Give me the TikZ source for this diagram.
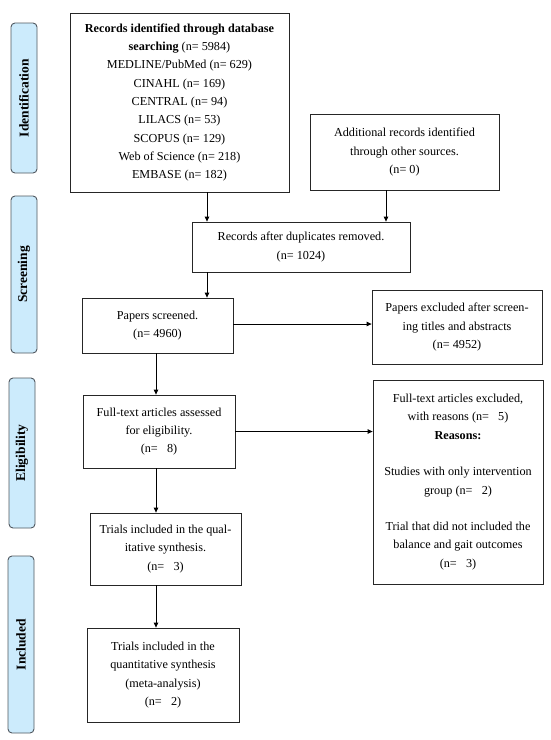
\documentclass[tikz,border=0pt]{standalone}
\usepackage{fontspec}
\setmainfont{Liberation Serif}
\usetikzlibrary{arrows.meta}
\definecolor{stagefill}{HTML}{CCEBFC}
\definecolor{stagedraw}{HTML}{505860}
\tikzset{
  flowbox/.style={draw=black!85, line width=0.8pt, fill=white, align=center, inner sep=0pt,
    font=\fontsize{12.2pt}{18.3pt}\selectfont},
  stagebox/.style={draw=stagedraw, line width=0.9pt, fill=stagefill, rounded corners=4pt, inner sep=0pt},
  stagelabel/.style={rotate=90, font=\fontsize{13.5pt}{16pt}\selectfont\bfseries},
  flowarrow/.style={draw=black, line width=0.8pt, -{Triangle[length=5pt,width=4.5pt]}}
}
\begin{document}
\begin{tikzpicture}[x=1pt,y=-1pt]
\useasboundingbox[fill=white] (0,0) rectangle (550,740);

% stage boxes
\node[stagebox, minimum width=26pt, minimum height=150pt] (sI) at (24,98) {};
\node[stagelabel] (lI) at (sI.center) {Identification};
\node[stagebox, minimum width=26pt, minimum height=157pt] (sS) at (24,274.5) {};
\node[stagelabel] (lS) at (sS.center) {Screening};
\node[stagebox, minimum width=26pt, minimum height=150pt] (sE) at (22,453) {};
\node[stagelabel] (lE) at (sE.center) {Eligibility};
\node[stagebox, minimum width=26pt, minimum height=177pt] (sN) at (21,644.5) {};
\node[stagelabel] (lN) at (sN.center) {Included};

% flow boxes
\node[flowbox, minimum width=219pt, minimum height=179pt] (main) at (179.5,102.5) {%
\textbf{Records identified through database}\\
\textbf{searching} (n= 5984)\\
MEDLINE/PubMed (n= 629)\\
CINAHL (n= 169)\\
CENTRAL (n= 94)\\
LILACS (n= 53)\\
SCOPUS (n= 129)\\
Web of Science (n= 218)\\
EMBASE (n= 182)};

\node[flowbox, minimum width=189pt, minimum height=76pt] (add) at (404.5,152) {%
Additional records identified\\
through other sources.\\
(n= 0)};

\node[flowbox, minimum width=218pt, minimum height=50pt] (dup) at (301,247) {%
Records after duplicates removed.\\
(n= 1024)};

\node[flowbox, minimum width=151pt, minimum height=55pt] (ps) at (157.5,325.5) {%
Papers screened.\\
(n= 4960)};

\node[flowbox, minimum width=170pt, minimum height=74pt] (ex1) at (457,327) {%
Papers excluded after screen-\\
ing titles and abstracts\\
(n= 4952)};

\node[flowbox, minimum width=152pt, minimum height=73pt] (ft) at (159,431.5) {%
Full-text articles assessed\\
for eligibility.\\
(n=~~~8)};

\node[flowbox, minimum width=170pt, minimum height=204pt] (ex2) at (458,482) {%
Full-text articles excluded,\\
with reasons (n=~~~5)\\
\textbf{Reasons:}\\[18.3pt]
Studies with only intervention\\
group (n=~~~2)\\[18.3pt]
Trial that did not included the\\
balance and gait outcomes\\
(n=~~~3)};

\node[flowbox, minimum width=151pt, minimum height=72pt] (tq) at (165.5,549) {%
Trials included in the qual-\\
itative synthesis.\\
(n=~~~3)};

\node[flowbox, minimum width=152pt, minimum height=94pt] (tm) at (163,675) {%
Trials included in the\\
quantitative synthesis\\
(meta-analysis)\\
(n=~~~2)};

% connector guides
\coordinate (c1) at (207,0);
\coordinate (c2) at (386,0);
\coordinate (c3) at (156,0);

\draw[flowarrow] (main.south -| c1) -- (dup.north -| c1);
\draw[flowarrow] (add.south -| c2) -- (dup.north -| c2);
\draw[flowarrow] (dup.south -| c1) -- (ps.north -| c1);
\draw[flowarrow] ([yshift=1.5pt]ps.east) -- ([yshift=1.5pt]ps.east -| ex1.west);
\draw[flowarrow] (ps.south -| c3) -- (ft.north -| c3);
\draw[flowarrow] (ft.east) -- (ft.east -| ex2.west);
\draw[flowarrow] (ft.south -| c3) -- (tq.north -| c3);
\draw[flowarrow] (tq.south -| c3) -- (tm.north -| c3);
\end{tikzpicture}
\end{document}
